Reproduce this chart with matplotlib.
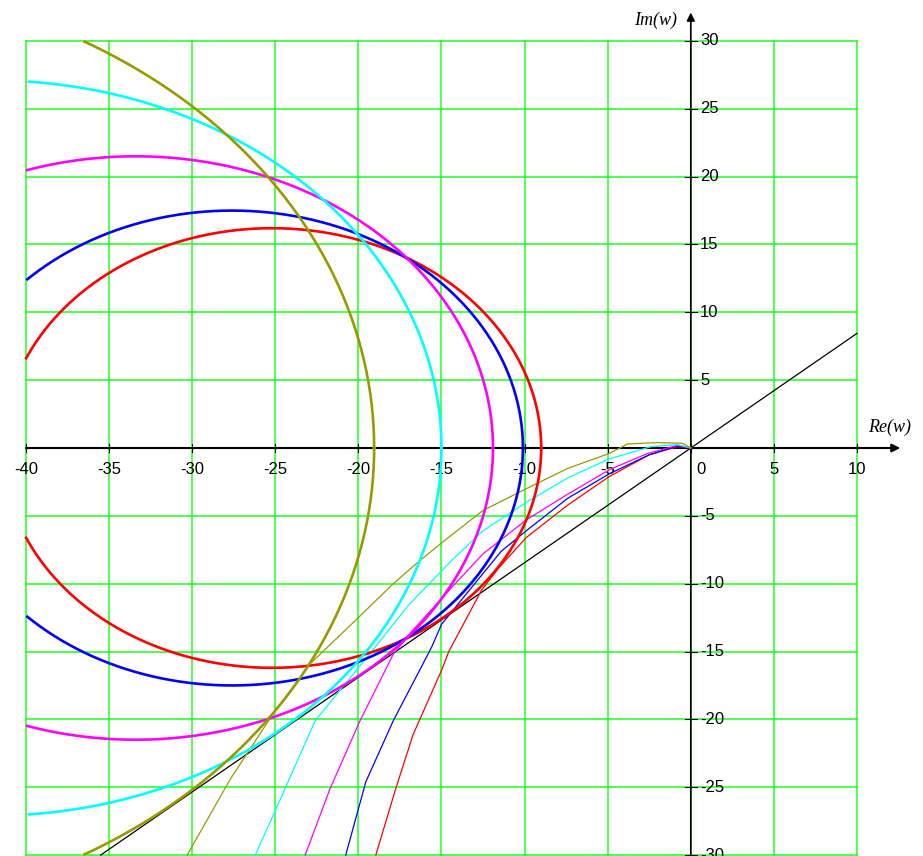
import numpy as np
import matplotlib
matplotlib.use('Agg')
import matplotlib.pyplot as plt

# ---------------- data ----------------
xticks = [-40, -35, -30, -25, -20, -15, -10, -5, 0, 5, 10]
yticks = [-30, -25, -20, -15, -10, -5, 0, 5, 10, 15, 20, 25, 30]

# thick closed curves (circles centred on the real axis)
circ_colors = ['#ff0000', '#0000ff', '#ff00ff', '#00ffff', '#999900']
circ_centers = [-25.2, -27.6, -33.4, -42.1, -53.5]
circ_radii = [16.2, 17.5, 21.5, 27.1, 34.45]

# thin curves leaving the origin
thin_red_x = [0, -0.8, -2.5, -4.9, -7.4, -9.9, -11.6, -12.6, -14.56, -15.0, -16.7, -17.75, -18.95]
thin_red_y = [0, 0.1, -0.5, -2.1, -4.2, -6.6, -8.9, -10.5, -15.0, -16.4, -21.1, -25.1, -30.0]
thin_blue_x = [0, -0.8, -2.5, -4.9, -7.4, -9.9, -11.4, -13.0, -15.0, -15.6, -17.9, -19.55, -20.76]
thin_blue_y = [0, 0.15, -0.5, -1.9, -3.7, -6.1, -7.6, -10.0, -13.0, -14.7, -20.1, -24.6, -30.0]
thin_mag_x = [0, -0.8, -2.6, -4.9, -7.4, -9.9, -12.5, -14.4, -16.85, -17.9, -19.9, -21.7, -23.2]
thin_mag_y = [0, 0.2, -0.4, -1.6, -3.4, -5.3, -7.8, -10.3, -13.6, -15.2, -20.1, -25.1, -30.0]
thin_cyan_x = [0, -0.8, -2.4, -4.9, -7.4, -9.9, -12.5, -14.4, -17.0, -19.2, -22.6, -25.1, -26.2]
thin_cyan_y = [0, 0.25, 0.1, -0.8, -2.2, -4.0, -6.1, -8.3, -11.6, -15.0, -20.1, -27.0, -30.0]
thin_olive_x = [0, -0.5, -2.0, -3.8, -4.9, -7.4, -9.9, -12.5, -15.0, -16.3, -17.9, -20.0, -22.9, -25.3, -27.7, -30.3]
thin_olive_y = [0, 0.35, 0.4, 0.3, -0.4, -1.5, -3.0, -4.6, -7.0, -8.3, -10.0, -12.5, -15.9, -19.9, -24.4, -30.0]

thin_x = [thin_red_x, thin_blue_x, thin_mag_x, thin_cyan_x, thin_olive_x]
thin_y = [thin_red_y, thin_blue_y, thin_mag_y, thin_cyan_y, thin_olive_y]

line_slope = 0.845

xmin, xmax = -40, 10
ymin, ymax = -30, 30

fig = plt.figure(figsize=(9.23, 8.56), dpi=100)
ax = fig.add_axes([0, 0, 1, 1])
ax.set_xlim(-41.56, 13.97)
ax.set_ylim(-30.07, 33.02)
ax.axis('off')

# grid
grid_col = '#1eff1e'
for xv in xticks:
    ax.plot([xv, xv], [ymin, ymax], color=grid_col, lw=1.1, zorder=1)
for yv in yticks:
    ax.plot([xmin, xmax], [yv, yv], color=grid_col, lw=1.1, zorder=1)

# axes with arrows
ax.annotate('', xy=(12.6, 0), xytext=(xmin, 0),
            arrowprops=dict(arrowstyle='-|>', color='black', lw=1.5,
                            mutation_scale=12, shrinkA=0, shrinkB=0), zorder=3)
ax.annotate('', xy=(0, 32.1), xytext=(0, ymin),
            arrowprops=dict(arrowstyle='-|>', color='black', lw=1.2,
                            mutation_scale=12, shrinkA=0, shrinkB=0), zorder=3)

# tick marks
for xv in xticks:
    ax.plot([xv, xv], [-0.3, 0.3], color='black', lw=0.8, zorder=3)
for yv in yticks:
    ax.plot([-0.35, 0.35], [yv, yv], color='black', lw=0.8, zorder=3)

# tick labels
lab_font = ['Liberation Sans Narrow', 'Liberation Sans', 'DejaVu Sans']
for xv in xticks:
    if xv == 0:
        ax.text(0.35, -1.0, '0', ha='left', va='top', fontsize=12, family=lab_font)
    else:
        ax.text(xv, -1.0, str(xv), ha='center', va='top', fontsize=12, family=lab_font)
for yv in yticks:
    if yv == 0:
        continue
    ax.text(0.55, yv, str(yv), ha='left', va='center', fontsize=12, family=lab_font)

ax.text(-0.8, 31.5, 'Im(w)', ha='right', va='center', fontsize=13,
        style='italic', family='Liberation Serif')
ax.text(10.65, 1.55, 'Re(w)', ha='left', va='center', fontsize=13,
        style='italic', family='Liberation Serif')

# black straight line through origin
lx = np.array([ymin / line_slope, xmax])
ax.plot(lx, line_slope * lx, color='black', lw=0.9, zorder=4)

# thin curves
for col, xs, ys in zip(circ_colors, thin_x, thin_y):
    ax.plot(xs, ys, color=col, lw=0.9, zorder=4)

# thick circles, clipped to the plot box
t = np.linspace(0, 2 * np.pi, 800)
for col, c, r in zip(circ_colors, circ_centers, circ_radii):
    cx = c + r * np.cos(t)
    cy = r * np.sin(t)
    out = (cx < xmin) | (cx > xmax) | (cy < ymin) | (cy > ymax)
    cx[out] = np.nan
    cy[out] = np.nan
    ax.plot(cx, cy, color=col, lw=1.9, zorder=5)

fig.savefig('out.png', dpi=100)
